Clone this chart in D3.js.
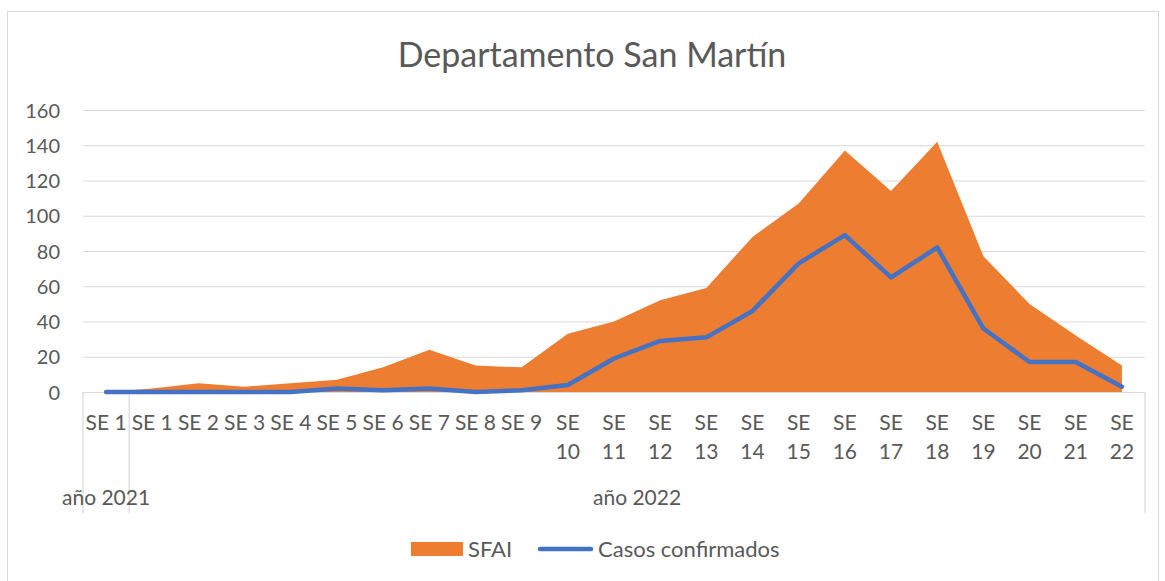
<!DOCTYPE html>
<html>
<head>
<meta charset="utf-8">
<script src="https://cdn.jsdelivr.net/npm/d3@7"></script>
<style>
  body { margin: 0; background: #fff; }
  text { font-family: Lato, "Open Sans", sans-serif; fill: #595959; }
</style>
</head>
<body>
<div id="chart"></div>
<script>
const weeks = ["SE 1", "SE 1", "SE 2", "SE 3", "SE 4", "SE 5", "SE 6", "SE 7", "SE 8", "SE 9", "SE 10",
  "SE 11", "SE 12", "SE 13", "SE 14", "SE 15", "SE 16", "SE 17", "SE 18", "SE 19", "SE 20", "SE 21", "SE 22"];
const years = ["año 2021", "año 2022", "año 2022", "año 2022", "año 2022", "año 2022", "año 2022", "año 2022",
  "año 2022", "año 2022", "año 2022", "año 2022", "año 2022", "año 2022", "año 2022", "año 2022", "año 2022",
  "año 2022", "año 2022", "año 2022", "año 2022", "año 2022", "año 2022"];
const sfai = [0, 2, 5, 3, 5, 7, 14, 24, 15, 14, 33, 40, 52, 59, 88, 107, 137, 114, 142, 77, 50, 32, 15];
const casos = [0, 0, 0, 0, 0, 2, 1, 2, 0, 1, 4, 19, 29, 31, 46, 73, 89, 65, 82, 36, 17, 17, 3];
const yTicks = [0, 20, 40, 60, 80, 100, 120, 140, 160];

const W = 1165, H = 581;
const plot = { left: 83, right: 1145, top: 110, bottom: 392 };

const svg = d3.select("#chart")
  .append("svg")
  .attr("width", W)
  .attr("height", H);

// chart border
svg.append("rect")
  .attr("x", 7.5).attr("y", 11.5)
  .attr("width", 1151).attr("height", 620)
  .attr("fill", "none")
  .attr("stroke", "#d9d9d9");

svg.append("text")
  .attr("x", 592).attr("y", 67)
  .attr("text-anchor", "middle")
  .style("font-size", "34px")
  .text("Departamento San Martín");

const x = d3.scaleBand()
  .domain(d3.range(weeks.length))
  .range([plot.left, plot.right])
  .padding(0);
const cx = i => x(i) + x.bandwidth() / 2;

const y = d3.scaleLinear()
  .domain([0, 160])
  .range([plot.bottom, plot.top]);

// gridlines + y labels
const yAxis = svg.append("g")
  .attr("transform", `translate(${plot.left},0)`)
  .call(d3.axisLeft(y).tickValues(yTicks).tickSize(-(plot.right - plot.left)).tickPadding(23));
yAxis.select(".domain").remove();
yAxis.selectAll("line").attr("stroke", "#d9d9d9").attr("stroke-width", 1.2);
yAxis.selectAll("text").style("font-size", "20px").attr("fill", "#595959").attr("dy", "0.35em");

// category dividers
const dividers = [x(0), x(1), plot.right];
svg.selectAll("line.div")
  .data(dividers)
  .join("line")
  .attr("class", "div")
  .attr("x1", d => d).attr("x2", d => d)
  .attr("y1", plot.bottom).attr("y2", 513)
  .attr("stroke", "#d9d9d9")
  .attr("stroke-width", 1.2);

// SFAI area
const area = d3.area()
  .x((d, i) => cx(i))
  .y0(y(0))
  .y1(d => y(d));
svg.append("path")
  .datum(sfai)
  .attr("fill", "#ed7d31")
  .attr("d", area);

// casos line
const line = d3.line()
  .x((d, i) => cx(i))
  .y(d => y(d));
svg.append("path")
  .datum(casos)
  .attr("fill", "none")
  .attr("stroke", "#4472c4")
  .attr("stroke-width", 4.5)
  .attr("stroke-linejoin", "round")
  .attr("stroke-linecap", "round")
  .attr("d", line);

// x labels (wrap two-digit weeks)
const xl = svg.append("g");
weeks.forEach((w, i) => {
  const t = xl.append("text")
    .attr("text-anchor", "middle")
    .style("font-size", "21px");
  if (w.length > 4) {
    const parts = w.split(" ");
    t.append("tspan").attr("x", cx(i)).attr("y", 430).text(parts[0]);
    t.append("tspan").attr("x", cx(i)).attr("y", 459).text(parts[1]);
  } else {
    t.attr("x", cx(i)).attr("y", 430).text(w);
  }
});

// year group labels
const groups = Array.from(d3.group(weeks.map((w, i) => i), i => years[i]));
svg.selectAll("text.year")
  .data(groups)
  .join("text")
  .attr("class", "year")
  .attr("x", d => (x(d[1][0]) + x(d[1][d[1].length - 1]) + x.bandwidth()) / 2)
  .attr("y", 505)
  .attr("text-anchor", "middle")
  .style("font-size", "21px")
  .text(d => d[0]);

// legend
const legend = svg.append("g");
legend.append("rect")
  .attr("x", 411).attr("y", 542)
  .attr("width", 52).attr("height", 14)
  .attr("fill", "#ed7d31");
legend.append("text")
  .attr("x", 468).attr("y", 557)
  .style("font-size", "22px")
  .text("SFAI");
legend.append("line")
  .attr("x1", 540).attr("x2", 591)
  .attr("y1", 549).attr("y2", 549)
  .attr("stroke", "#4472c4")
  .attr("stroke-width", 4.5)
  .attr("stroke-linecap", "round");
legend.append("text")
  .attr("x", 598).attr("y", 557)
  .style("font-size", "22px")
  .text("Casos confirmados");
</script>
</body>
</html>
